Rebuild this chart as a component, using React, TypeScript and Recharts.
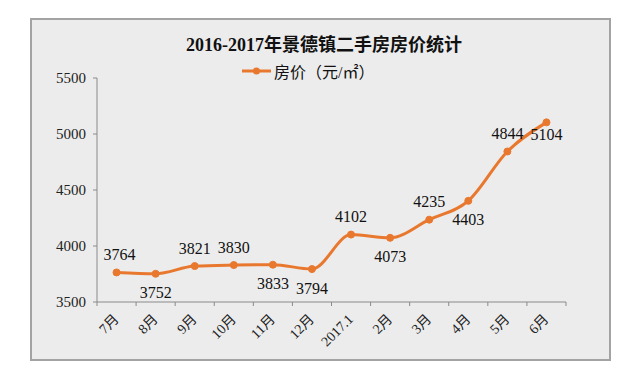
import React from "react";
import { LineChart, Line, XAxis, YAxis, LabelList, Legend } from "recharts";

const months = ["7月", "8月", "9月", "10月", "11月", "12月", "2017.1", "2月", "3月", "4月", "5月", "6月"];
const prices = [3764, 3752, 3821, 3830, 3833, 3794, 4102, 4073, 4235, 4403, 4844, 5104];
const yTicks = [3500, 4000, 4500, 5000, 5500];
const seriesName = "房价（元/㎡）";
const chartTitle = "2016-2017年景德镇二手房房价统计";

// which data labels sit under their point
const labelsBelow = [1, 4, 5, 7, 9, 11];

const data = months.map((m, i) => ({ month: m, price: prices[i] }));

const ORANGE = "#E9782F";
const SERIF = "'Liberation Serif', 'Noto Sans CJK SC', serif";
const BAND = 469 / months.length;

const MonthTick = (props: any) => {
  const { x, y, payload, index } = props;
  const left = x - BAND / 2;
  return (
    <g>
      <line x1={left} y1={y} x2={left} y2={y + 4} stroke="#8a8a8a" />
      {index === months.length - 1 && (
        <line x1={x + BAND / 2} y1={y} x2={x + BAND / 2} y2={y + 4} stroke="#8a8a8a" />
      )}
      <text
        x={0}
        y={0}
        transform={`translate(${x + 3},${y + 18}) rotate(-45)`}
        textAnchor="end"
        fontSize={14}
        fontFamily={SERIF}
        fill="#222"
      >
        {payload.value}
      </text>
    </g>
  );
};

const PriceLabel = (props: any) => {
  const { x, y, value, index } = props;
  let dy = labelsBelow.includes(index) ? 19 : -18;
  let dx = 0;
  if (index === 0) dx = 3;
  if (index === 11) dy = 12;
  return (
    <text
      x={x + dx}
      y={y + dy}
      textAnchor="middle"
      dominantBaseline="central"
      fontSize={16}
      fontFamily={SERIF}
      fill="#111"
    >
      {value}
    </text>
  );
};

const LegendContent = () => (
  <div style={{ display: "flex", alignItems: "center", fontFamily: SERIF, fontSize: 16, color: "#111", height: 20 }}>
    <svg width={30} height={12}>
      <line x1={0} y1={6} x2={29} y2={6} stroke={ORANGE} strokeWidth={3} />
      <circle cx={14.5} cy={6} r={3.5} fill={ORANGE} />
    </svg>
    <span style={{ marginLeft: 2, whiteSpace: "nowrap" }}>{seriesName}</span>
  </div>
);

export default function App() {
  return (
    <div style={{ position: "fixed", left: 0, top: 0, width: 640, height: 383, background: "#fff" }}>
      <div
        style={{
          position: "absolute",
          left: 30,
          top: 18,
          width: 577,
          height: 339,
          background: "#ececec",
          border: "2px solid #a3a3a3",
        }}
      />
      <div
        style={{
          position: "absolute",
          left: 4,
          top: 33,
          width: 640,
          textAlign: "center",
          fontFamily: SERIF,
          fontWeight: "bold",
          fontSize: 18,
          color: "#111",
          lineHeight: "24px",
        }}
      >
        {chartTitle}
      </div>
      <div style={{ position: "absolute", left: 0, top: 0 }}>
        <LineChart width={640} height={383} data={data} margin={{ top: 58, right: 74, bottom: 21, left: 37 }}>
          <Legend
            verticalAlign="top"
            height={20}
            content={<LegendContent />}
            wrapperStyle={{ top: 61, left: 242, width: 160 }}
          />
          <XAxis
            dataKey="month"
            height={60}
            padding={{ left: BAND / 2, right: BAND / 2 }}
            axisLine={{ stroke: "#8a8a8a" }}
            tickLine={false}
            tickSize={0}
            tickMargin={0}
            interval={0}
            tick={<MonthTick />}
          />
          <YAxis
            width={60}
            domain={[3500, 5500]}
            ticks={yTicks}
            axisLine={{ stroke: "#8a8a8a" }}
            tickLine={{ stroke: "#8a8a8a" }}
            tickSize={4}
            tickMargin={7}
            tick={{ fontSize: 15, fontFamily: SERIF, fill: "#222" }}
          />
          <Line
            type="monotone"
            dataKey="price"
            name={seriesName}
            stroke={ORANGE}
            strokeWidth={3}
            dot={{ r: 3.5, fill: ORANGE, stroke: ORANGE, strokeWidth: 1 }}
            isAnimationActive={false}
          >
            <LabelList dataKey="price" content={<PriceLabel />} />
          </Line>
        </LineChart>
      </div>
    </div>
  );
}
